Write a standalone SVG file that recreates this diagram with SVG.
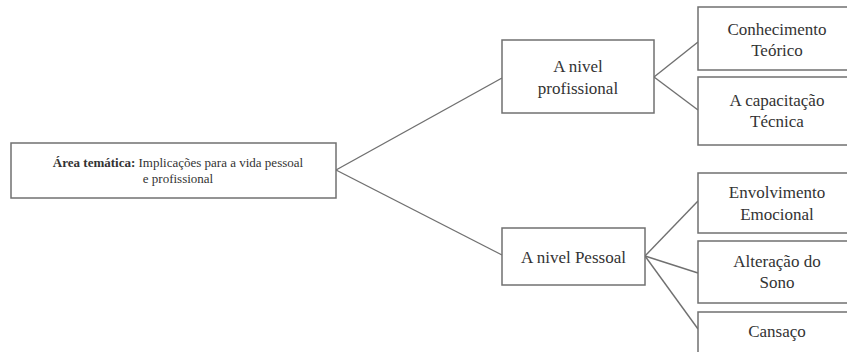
<svg xmlns="http://www.w3.org/2000/svg" width="847" height="352" viewBox="0 0 847 352">
<style>
.box{fill:#fff;stroke:#707070;stroke-width:1.5}
.edge{fill:none;stroke:#707070;stroke-width:1.4}
.t{font-family:"Liberation Serif","Times New Roman",serif;fill:#333;text-anchor:middle;font-size:17px}
.s{font-family:"Liberation Serif","Times New Roman",serif;fill:#333;text-anchor:middle;font-size:13px}
</style>
<rect width="847" height="352" fill="#fff"/>
<g id="connectors">
<line class="edge" x1="336" y1="170" x2="502" y2="78"/>
<line class="edge" x1="336" y1="170" x2="502" y2="255"/>
<line class="edge" x1="654" y1="77" x2="698" y2="42"/>
<line class="edge" x1="654" y1="77" x2="698" y2="110"/>
<line class="edge" x1="645" y1="256" x2="698" y2="201"/>
<line class="edge" x1="645" y1="256" x2="698" y2="273"/>
<line class="edge" x1="645" y1="256" x2="698" y2="329"/>
</g>
<g id="area">
<rect class="box" x="11" y="143" width="325" height="55"/>
<text class="s" x="178" y="167"><tspan font-weight="bold">Área temática:</tspan> Implicações para a vida pessoal</text>
<text class="s" x="178" y="183">e profissional</text>
</g>
<g id="profissional">
<rect class="box" x="502" y="40" width="152" height="73"/>
<text class="t" x="578" y="72">A nivel</text>
<text class="t" x="578" y="94">profissional</text>
</g>
<g id="pessoal">
<rect class="box" x="502" y="228" width="143" height="57"/>
<text class="t" x="573.5" y="263">A nivel Pessoal</text>
</g>
<g id="conhecimento">
<rect class="box" x="698" y="7" width="160" height="63"/>
<text class="t" x="777" y="35">Conhecimento</text>
<text class="t" x="777" y="56">Teórico</text>
</g>
<g id="capacitacao">
<rect class="box" x="698" y="77" width="160" height="68"/>
<text class="t" x="777" y="106">A capacitação</text>
<text class="t" x="777" y="127">Técnica</text>
</g>
<g id="envolvimento">
<rect class="box" x="698" y="173" width="160" height="60"/>
<text class="t" x="777" y="198">Envolvimento</text>
<text class="t" x="777" y="220">Emocional</text>
</g>
<g id="alteracao">
<rect class="box" x="698" y="241" width="160" height="62"/>
<text class="t" x="777" y="267">Alteração do</text>
<text class="t" x="777" y="288">Sono</text>
</g>
<g id="cansaco">
<rect class="box" x="698" y="312" width="160" height="60"/>
<text class="t" x="777" y="337">Cansaço</text>
</g>
</svg>
